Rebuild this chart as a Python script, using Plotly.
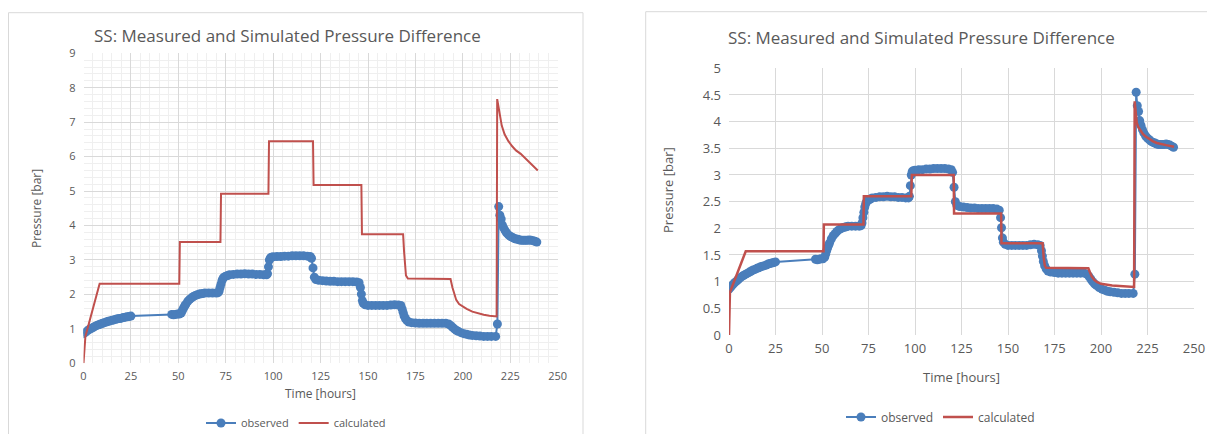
import plotly.graph_objects as go

# ---------------- data ----------------
obs_t = [0, 1, 2, 3, 4, 5, 6, 7, 8, 9, 10, 11, 12, 13, 14, 15, 16, 17, 18, 19, 20, 21, 22, 23, 24, 25,
         46.5, 47.5, 48.5, 49.5, 50.5, 51.5, 52, 52.5, 53, 53.5, 54, 55, 56, 57, 58, 59, 60, 61, 62, 63, 64,
         66, 68, 70, 71, 71.5, 72, 72.5, 73, 73.5, 74, 75, 76, 77, 79, 81, 83, 85, 87, 89, 91, 93, 95,
         96.5, 97, 97.5, 98, 98.5, 99, 100, 102, 104, 106, 108, 110, 112, 114, 116, 118, 119.5, 120.2,
         121, 121.7, 122.5, 124, 126, 128, 130, 132, 134, 136, 138, 140, 142, 144, 145.3, 146, 146.5,
         147, 147.5, 148.5, 150, 152, 154, 156, 158, 160, 162, 164, 166, 167.3, 168, 168.5, 169, 169.7,
         170.5, 171.5, 173, 175, 177, 179, 181, 183, 185, 187, 189, 191, 192.5, 193.5, 194.5, 195.5,
         196.5, 197.5, 199, 200.5, 202, 203.5, 205, 207, 209, 211, 213, 215, 217.3, 218.2, 218.9, 219.5,
         220.2, 220.8, 221.5, 222.3, 223, 224, 225, 226, 227, 228, 229, 230, 231, 232, 233, 234, 235,
         236, 237, 238, 239]
obs_v = [0.86, 0.9, 0.94, 0.98, 1.01, 1.04, 1.07, 1.1, 1.12, 1.14, 1.16, 1.18, 1.2, 1.22, 1.23, 1.25,
         1.26, 1.28, 1.29, 1.3, 1.31, 1.33, 1.34, 1.35, 1.36, 1.37,
         1.42, 1.41, 1.42, 1.43, 1.43, 1.46, 1.52, 1.58, 1.63, 1.68, 1.72, 1.8, 1.86, 1.9, 1.94, 1.97,
         1.99, 2.01, 2.02, 2.03, 2.04, 2.04, 2.04, 2.04, 2.05, 2.1, 2.2, 2.3, 2.4, 2.46, 2.5, 2.53, 2.55,
         2.57, 2.58, 2.59, 2.59, 2.6, 2.59, 2.59, 2.58, 2.58, 2.57, 2.57, 2.6, 2.8, 3.0, 3.06, 3.08,
         3.09, 3.1, 3.1, 3.11, 3.11, 3.12, 3.12, 3.12, 3.12, 3.11, 3.1, 3.05,
         2.77, 2.5, 2.43, 2.41, 2.4, 2.39, 2.38, 2.38, 2.37, 2.37, 2.37, 2.37, 2.37, 2.36, 2.34, 2.2,
         2.01, 1.82, 1.74, 1.7, 1.68, 1.68, 1.68, 1.68, 1.68, 1.68, 1.69, 1.7, 1.69, 1.68, 1.58, 1.48,
         1.38, 1.3, 1.24, 1.2, 1.18, 1.17, 1.16, 1.16, 1.16, 1.16, 1.16, 1.16, 1.16, 1.16, 1.14, 1.1,
         1.05, 1.0, 0.96, 0.93, 0.89, 0.86, 0.84, 0.82, 0.81, 0.8, 0.79, 0.78, 0.78, 0.78, 0.78, 1.14,
         4.55, 4.3, 4.19, 4.02, 3.93, 3.85, 3.79, 3.73, 3.69, 3.66, 3.63, 3.61, 3.6, 3.58, 3.57, 3.57,
         3.57, 3.57, 3.58, 3.57, 3.56, 3.54, 3.52]

calc_left_t = [0, 1, 8.5, 50.5, 50.8, 72.2, 72.5, 97.5, 97.8, 121, 121.3, 146.5, 146.8, 168.5, 169,
               169.5, 170, 171, 193.5, 194.5, 195.5, 196.5, 198, 200, 202, 205, 208, 211, 214, 217.8,
               218.1, 218.7, 219.5, 220.5, 222, 224, 226, 228, 230.5, 233, 236, 239.5]
calc_left_v = [0, 0.78, 2.31, 2.31, 3.52, 3.52, 4.92, 4.92, 6.45, 6.45, 5.18, 5.18, 3.75, 3.75, 3.25,
               2.8, 2.55, 2.46, 2.45, 2.2, 1.98, 1.84, 1.72, 1.64, 1.58, 1.5, 1.45, 1.41, 1.38, 1.36,
               7.67, 7.45, 7.15, 6.9, 6.65, 6.45, 6.3, 6.18, 6.08, 5.95, 5.8, 5.6]

calc_right_t = [0, 0.5, 9, 50.8, 51, 72.3, 72.5, 98, 98.3, 120.8, 121, 146.3, 146.5, 168.6, 169.2,
                169.8, 170.5, 193.2, 194, 195, 196.5, 198, 200, 203, 206, 210, 214, 217.8, 218.1,
                218.6, 219.2, 220, 221, 222.5, 224, 226, 228, 230, 232, 235, 239.3]
calc_right_v = [0, 0.8, 1.57, 1.57, 2.07, 2.07, 2.6, 2.6, 3.0, 3.0, 2.28, 2.28, 1.72, 1.72, 1.45,
                1.3, 1.26, 1.25, 1.18, 1.1, 1.03, 0.99, 0.96, 0.94, 0.93, 0.92, 0.91, 0.9, 4.38,
                4.12, 3.98, 3.9, 3.84, 3.77, 3.72, 3.67, 3.63, 3.6, 3.58, 3.56, 3.53]

title_text = "SS: Measured and Simulated Pressure Difference"
x_title = "Time [hours]"
y_title = "Pressure [bar]"

# ---------------- style ----------------
W, H = 1207, 434
BLUE = "#4a7ebb"
RED = "#c0504d"
TXT = "#595959"
GRID = "#d9d9d9"
FONT = "Open Sans"


def px(x):
    return x / W


def py(y):
    return 1 - y / H


fig = go.Figure()

fig.add_trace(go.Scatter(x=obs_t, y=obs_v, name="observed", mode="lines+markers",
                         line=dict(color=BLUE, width=2), marker=dict(color=BLUE, size=9),
                         xaxis="x", yaxis="y", legend="legend"))
fig.add_trace(go.Scatter(x=calc_left_t, y=calc_left_v, name="calculated", mode="lines",
                         line=dict(color=RED, width=2), xaxis="x", yaxis="y", legend="legend"))
fig.add_trace(go.Scatter(x=obs_t, y=obs_v, name="observed", mode="lines+markers",
                         line=dict(color=BLUE, width=2), marker=dict(color=BLUE, size=9),
                         xaxis="x2", yaxis="y2", legend="legend2"))
fig.add_trace(go.Scatter(x=calc_right_t, y=calc_right_v, name="calculated", mode="lines",
                         line=dict(color=RED, width=2.5), xaxis="x2", yaxis="y2", legend="legend2"))

# left plot area: x 83.5..557.7, y 53.3..363.3
# right plot area: x 729..1194, y 68.3..335
axis_common = dict(showline=False, zeroline=False, ticks="", color=TXT, automargin=False)
fig.update_layout(
    width=W, height=H, margin=dict(l=0, r=0, t=0, b=0, autoexpand=False),
    paper_bgcolor="white", plot_bgcolor="white",
    font=dict(family=FONT, color=TXT),
    xaxis=dict(domain=[px(83.5), px(557.7)], range=[0, 250], dtick=25, tick0=0,
               gridcolor=GRID, gridwidth=1.3, tickfont=dict(size=11), anchor="y",
               minor=dict(dtick=5, showgrid=True, gridcolor="#efefef", gridwidth=1),
               ticklabelstandoff=5, **axis_common),
    yaxis=dict(domain=[py(363.3), py(53.3)], range=[0, 9], dtick=1, tick0=0,
               gridcolor=GRID, gridwidth=1.3, tickfont=dict(size=11), anchor="x",
               minor=dict(dtick=0.2, showgrid=True, gridcolor="#efefef", gridwidth=1),
               ticklabelstandoff=7, **axis_common),
    xaxis2=dict(domain=[px(729), px(1194)], range=[0, 250], dtick=25, tick0=0,
                gridcolor=GRID, gridwidth=1.3, tickfont=dict(size=13), anchor="y2",
                ticklabelstandoff=4, **axis_common),
    yaxis2=dict(domain=[py(335), py(68.3)], range=[0, 5], dtick=0.5, tick0=0,
                gridcolor=GRID, gridwidth=1.3, tickfont=dict(size=13), anchor="x2",
                ticklabelstandoff=7, **axis_common),
    legend=dict(orientation="h", x=px(201), y=py(423), xanchor="left", yanchor="middle",
                font=dict(size=11, color=TXT), bgcolor="rgba(0,0,0,0)", itemwidth=30),
    legend2=dict(orientation="h", x=px(841), y=py(417), xanchor="left", yanchor="middle",
                 font=dict(size=12, color=TXT), bgcolor="rgba(0,0,0,0)", itemwidth=30),
    showlegend=True,
)

# chart frames
fig.add_shape(type="rect", xref="paper", yref="paper", x0=px(8.5), x1=px(583), y0=-0.05, y1=py(12.7),
              line=dict(color="#d9d9d9", width=1), layer="below")
fig.add_shape(type="rect", xref="paper", yref="paper", x0=px(645.7), x1=1.05, y0=-0.05, y1=py(11.7),
              line=dict(color="#d9d9d9", width=1), layer="below")

annots = [
    dict(text=title_text, x=px(287), y=py(35), font=dict(size=17, color=TXT)),
    dict(text=title_text, x=px(921), y=py(37), font=dict(size=17, color=TXT)),
    dict(text=x_title, x=px(320), y=py(393), font=dict(size=12, color=TXT)),
    dict(text=x_title, x=px(961), y=py(377), font=dict(size=13, color=TXT)),
    dict(text=y_title, x=px(36), y=py(209), textangle=-90, font=dict(size=12, color=TXT)),
    dict(text=y_title, x=px(668), y=py(190), textangle=-90, font=dict(size=13, color=TXT)),
]
for a in annots:
    fig.add_annotation(xref="paper", yref="paper", showarrow=False,
                       xanchor="center", yanchor="middle", **a)

fig.write_html("out.html")
